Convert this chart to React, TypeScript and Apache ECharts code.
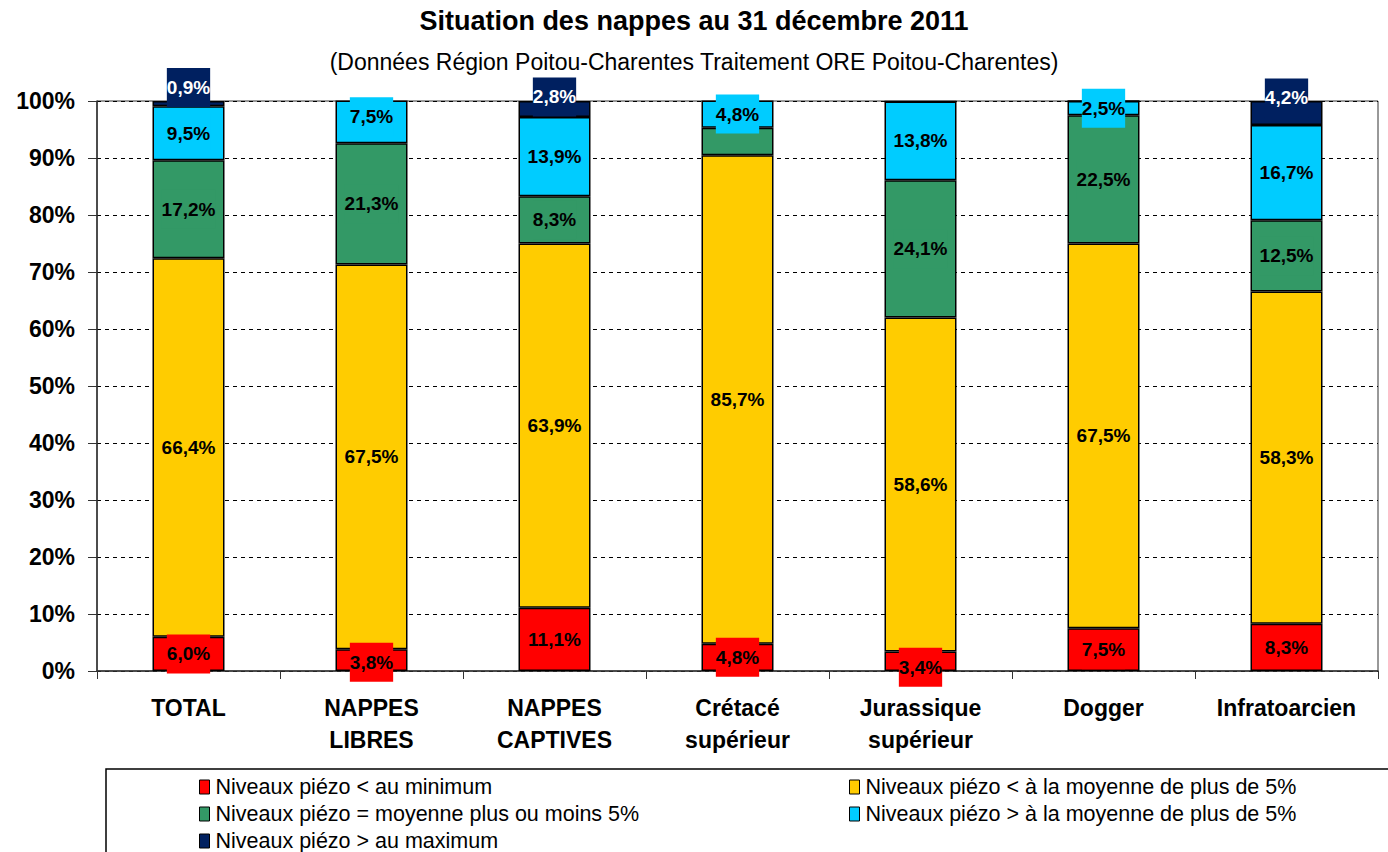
import React, { useEffect, useRef } from "react";
import * as echarts from "echarts";

const titleText = "Situation des nappes au 31 décembre 2011";
const subtitleText = "(Données Région Poitou-Charentes Traitement ORE Poitou-Charentes)";

const categories = [
  "TOTAL",
  "NAPPES\nLIBRES",
  "NAPPES\nCAPTIVES",
  "Crétacé\nsupérieur",
  "Jurassique\nsupérieur",
  "Dogger",
  "Infratoarcien",
];

const seriesNames = [
  "Niveaux piézo < au minimum",
  "Niveaux piézo < à la moyenne de plus de 5%",
  "Niveaux piézo = moyenne plus ou moins 5%",
  "Niveaux piézo > à la moyenne de plus de 5%",
  "Niveaux piézo > au maximum",
];

const belowMin = [6.0, 3.8, 11.1, 4.8, 3.4, 7.5, 8.3];
const belowAvg = [66.4, 67.5, 63.9, 85.7, 58.6, 67.5, 58.3];
const nearAvg = [17.2, 21.3, 8.3, 4.8, 24.1, 22.5, 12.5];
const aboveAvg = [9.5, 7.5, 13.9, 4.8, 13.8, 2.5, 16.7];
const aboveMax = [0.9, 0, 2.8, 0, 0, 0, 4.2];

const seriesValues = [belowMin, belowAvg, nearAvg, aboveAvg, aboveMax];
const seriesColors = ["#FF0000", "#FFCC00", "#339966", "#00CCFF", "#002060"];
const labelColors = ["#000", "#000", "#000", "#000", "#fff"];

// label nudges (series-index, data-index) -> [dx, dy]
const labelOffsets: Record<string, [number, number]> = {
  "4-0": [0, -16],
  "4-2": [0, -12],
  "4-6": [0, -15],
  "3-1": [0, -5],
  "0-4": [0, 6],
  "0-1": [0, 2],
};
const hiddenLabels = ["2-3"];

// legend layout: [left, rowCenterY]
const legendSlots: [number, number][] = [
  [199, 787],
  [849, 787],
  [199, 814],
  [849, 814],
  [199, 841],
];

const fmt = (v: number) => v.toFixed(1).replace(".", ",") + "%";

export default function App() {
  const ref = useRef<HTMLDivElement>(null);
  useEffect(() => {
    if (!ref.current) return;
    const chart = echarts.init(ref.current, undefined, { renderer: "svg" });
    const font = "Arial, 'Liberation Sans', sans-serif";

    const series = seriesValues.map((vals, si) => ({
      name: seriesNames[si],
      type: "bar",
      stack: "total",
      barWidth: 72,
      itemStyle: { color: seriesColors[si], borderColor: "#000", borderWidth: 1.5 },
      label: {
        show: true,
        position: "inside",
        formatter: (p: any) => fmt(p.value),
        fontFamily: font,
        fontSize: 19,
        fontWeight: "bold",
        color: labelColors[si],
        backgroundColor: seriesColors[si],
        padding: [10, 0],
      },
      data: vals.map((v, di) => {
        const key = `${si}-${di}`;
        const item: any = { value: v };
        if (v === 0 || hiddenLabels.includes(key)) {
          item.label = { show: false };
        } else if (labelOffsets[key]) {
          item.label = { offset: labelOffsets[key] };
        }
        return item;
      }),
    }));

    const legends = seriesNames.map((name, i) => ({
      data: [name],
      left: legendSlots[i][0],
      top: legendSlots[i][1] - 11,
      padding: 0,
      itemWidth: 10,
      itemHeight: 14,
      itemGap: 0,
      icon: "rect",
      selectedMode: false,
      itemStyle: { borderColor: "#000", borderWidth: 1 },
      textStyle: { fontFamily: font, fontSize: 21.5, color: "#000", padding: [0, 0, 0, 1] },
    }));

    chart.setOption({
      animation: false,
      backgroundColor: "#fff",
      title: [
        {
          text: titleText,
          left: "center",
          top: 7,
          padding: 0,
          textStyle: { fontFamily: font, fontSize: 27, fontWeight: "bold", color: "#000" },
        },
        {
          text: subtitleText,
          left: "center",
          top: 50,
          padding: 0,
          textStyle: { fontFamily: font, fontSize: 23, fontWeight: "normal", color: "#000" },
        },
      ],
      legend: legends,
      grid: {
        left: 97,
        right: 10,
        top: 101,
        bottom: 181,
        show: true,
        borderColor: "#333",
        borderWidth: 1,
        containLabel: false,
      },
      xAxis: {
        type: "category",
        data: categories,
        axisLine: { lineStyle: { color: "#333", width: 1.5 } },
        axisTick: { show: true, length: 8, lineStyle: { color: "#333" } },
        axisLabel: {
          margin: 21,
          fontFamily: font,
          fontSize: 23,
          fontWeight: "bold",
          color: "#000",
          lineHeight: 32,
          interval: 0,
        },
      },
      yAxis: {
        type: "value",
        min: 0,
        max: 100,
        interval: 10,
        axisLine: { show: true, lineStyle: { color: "#333", width: 1.5 } },
        axisTick: { show: true, length: 9, lineStyle: { color: "#333" } },
        axisLabel: {
          formatter: (v: number) => `${v}%`,
          margin: 22,
          fontFamily: font,
          fontSize: 23,
          fontWeight: "bold",
          color: "#000",
        },
        splitLine: { show: true, lineStyle: { color: "#000", type: [4, 4], width: 1 } },
      },
      graphic: [
        {
          type: "rect",
          shape: { x: 106, y: 769, width: 1300, height: 100 },
          style: { fill: "none", stroke: "#000", lineWidth: 1.5 },
          z: 0,
        },
      ],
      series,
    });
    return () => chart.dispose();
  }, []);
  return (
    <div
      ref={ref}
      style={{ position: "absolute", left: 0, top: 0, width: 1388, height: 852, background: "#fff" }}
    />
  );
}
